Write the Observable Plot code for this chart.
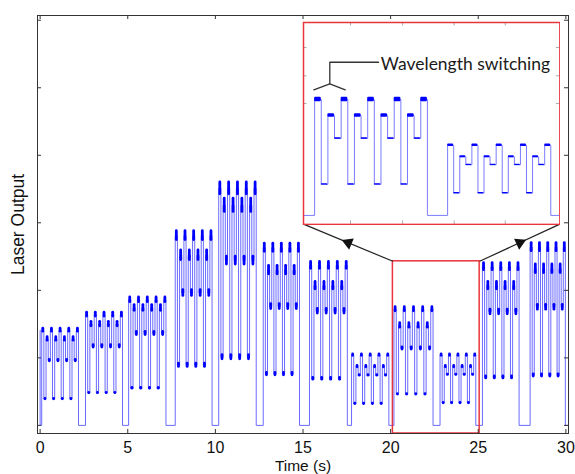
<!DOCTYPE html>
<html><head><meta charset="utf-8">
<script src="https://cdn.jsdelivr.net/npm/d3@7"></script>
<script src="https://cdn.jsdelivr.net/npm/@observablehq/plot@0.6"></script>
<style>
html,body{margin:0;padding:0;background:#fff;}
#wrap{position:relative;width:575px;height:474px;overflow:hidden;}
#wrap svg{display:block;}
</style></head><body><div id="wrap"></div>
<script>
// ---- data ----
const segStart = [0.09, 2.59, 5.05, 7.71, 10.19, 12.73, 15.37, 17.77, 20.19, 22.82, 25.24, 27.96];
const segEnd   = [2.19, 4.70, 7.18, 9.81, 12.33, 14.80, 17.53, 19.90, 22.42, 24.86, 27.33, 29.97];
const levelH  = [1.41, 1.64, 1.86, 2.81, 3.51, 2.63, 2.37, 1.04, 1.72, 1.04, 2.35, 2.64];
const levelM1 = [1.28, 1.50, 1.74, 2.52, 3.26, 2.30, 2.07, 0.87, 1.48, 0.87, 2.07, 2.32];
const levelM2 = [0.96, 1.17, 1.36, 1.96, 2.44, 1.76, 1.69, 0.74, 1.14, 0.75, 1.68, 1.75];
const levelL  = [0.39, 0.48, 0.55, 0.89, 1.01, 0.76, 0.69, 0.32, 0.46, 0.33, 0.71, 0.74];
const pattern = ["H","L","M1","M2","H","L","M1","M2","H","L","M1","M2","H","L","M1","M2","H"];
const startLevel = 1.41;
const xTicks = [0, 5, 10, 15, 20, 25, 30];
const yTicks = [0, 1, 2, 3, 4, 5, 6];
const zoomRect = [{x1: 20.13, x2: 25.08, y1: -0.12, y2: 2.43}];
const insetBox = {x1: 15.03, x2: 29.66, y1: 2.98, y2: 5.97};
const insetX = [19.97, 25.04];
const insetY = [-0.133, 2.86];
const insetXTicks = [20.9, 21.93, 22.95, 23.96];
const insetYTicks = [1.66, 2.07, 2.49];
const annotation = [{t: 21.50, v: 2.24, text: "Wavelength switching"}];
const bracket = [
  {part: "a", t: 21.455, v: 2.271}, {part: "a", t: 20.49, v: 2.271}, {part: "a", t: 20.49, v: 1.951},
  {part: "b", t: 20.174, v: 1.862}, {part: "b", t: 20.49, v: 1.951}, {part: "b", t: 20.796, v: 1.862}
];

// ---- build the step signal ----
const levels = {H: levelH, L: levelL, M1: levelM1, M2: levelM2};
const steps = [{t: 0, v: startLevel}, {t: 0, v: 0}];
const plateaus = [];
segStart.forEach((s, i) => {
  const dt = (segEnd[i] - s) / pattern.length;
  pattern.forEach((k, j) => {
    const v = levels[k][i];
    steps.push({t: s + j * dt, v});
    plateaus.push({t1: s + j * dt, t2: s + (j + 1) * dt, v, kind: k, seg: i});
  });
  steps.push({t: segEnd[i], v: 0});
});
steps.push({t: 30.15, v: 0});

// ---- layout ----
const W = 575, H = 474, mL = 37, mR = 7, mT = 15, mB = 41;
const xDomain = [-0.15, 30.15], yDomain = [-0.12, 6.07];
const ux = (xDomain[1] - xDomain[0]) / (W - mL - mR);
const uy = (yDomain[1] - yDomain[0]) / (H - mT - mB);
const iw = W - mL - mR, ih = H - mT - mB;
const blobK = {H: 4.2, M1: 5.0, M2: 4.5, L: 7.0};
const blobLen = d => Math.max(0.4, blobK[d.kind] * d.v - 3) / 2;

const arrows = [
  {x1: zoomRect[0].x1, y1: zoomRect[0].y2, x2: insetBox.x1, y2: insetBox.y1},
  {x1: zoomRect[0].x2, y1: zoomRect[0].y2, x2: insetBox.x2, y2: insetBox.y1}
];
const heads = arrows.map(a => {
  const dx = (a.x2 - a.x1) / ux, dy = -(a.y2 - a.y1) / uy;
  return {x: (a.x1 + a.x2) / 2, y: (a.y1 + a.y2) / 2, angle: Math.atan2(dy, dx) * 180 / Math.PI + 90};
});

const font = "Liberation Sans";
const blue = "#0000ff";
const main = Plot.plot({
  width: W, height: H, marginLeft: mL, marginRight: mR, marginTop: mT, marginBottom: mB,
  x: {domain: xDomain, label: null},
  y: {domain: yDomain, axis: null, label: null},
  style: {background: "white", fontFamily: font, color: "#111"},
  marks: [
    Plot.line(steps, {x: "t", y: "v", curve: "step-after", stroke: "#5a5aff", strokeWidth: 0.9}),
    Plot.ruleX(plateaus, {x: d => (d.t1 + d.t2) / 2, y1: d => d.v - blobLen(d) * uy, y2: d => d.v + blobLen(d) * uy,
      stroke: blue, strokeWidth: 2.8, strokeLinecap: "round"}),
    Plot.rect(zoomRect, {x1: "x1", x2: "x2", y1: "y1", y2: "y2", fill: "none", stroke: "#e8343c", strokeWidth: 1.5}),
    Plot.link(arrows, {x1: "x1", y1: "y1", x2: "x2", y2: "y2", stroke: "#222", strokeWidth: 1.2}),
    Plot.dot(heads, {x: "x", y: "y", symbol: "triangle", r: 4.5, fill: "#111", stroke: "none", rotate: "angle"}),
    Plot.frame({stroke: "#333", strokeWidth: 1}),
    Plot.tickX(xTicks, {x: d => d, insetTop: ih - 4, stroke: "#333"}),
    Plot.tickX(xTicks, {x: d => d, insetBottom: ih - 4, stroke: "#333"}),
    Plot.tickY(yTicks, {y: d => d, insetRight: iw - 4, stroke: "#333"}),
    Plot.tickY(yTicks, {y: d => d, insetLeft: iw - 4, stroke: "#333"}),
    Plot.axisX(xTicks, {tickSize: 0, tickPadding: 8.5, fontSize: 16, fontFamily: font, label: null, fill: "#111"}),
    Plot.text(["Time (s)"], {text: d => d, frameAnchor: "bottom", textAnchor: "middle", lineAnchor: "bottom", dy: 37.3,
      fontSize: 15.5, fontFamily: font, fill: "#111"}),
    Plot.text(["Laser Output"], {text: d => d, frameAnchor: "left", textAnchor: "middle", lineAnchor: "middle", dx: -19, rotate: -90,
      fontSize: 17.5, fontFamily: font, fill: "#111"})
  ]
});
const wrap = document.getElementById("wrap");
wrap.appendChild(main);

// ---- inset ----
const sx = main.scale("x"), sy = main.scale("y");
const px1 = sx.apply(insetBox.x1), px2 = sx.apply(insetBox.x2);
const py1 = sy.apply(insetBox.y2), py2 = sy.apply(insetBox.y1);
const IW = px2 - px1 + 2, IH = py2 - py1 + 2;
const iuy = (insetY[1] - insetY[0]) / (IH - 2);
const noiseK = {H: 1.3, M1: 1.2, M2: 0.6, L: 1.4};
const noise = d => Math.max(0.7, noiseK[d.kind] * d.v) * iuy;
const inset = Plot.plot({
  width: IW, height: IH, margin: 1,
  x: {domain: insetX, axis: null, label: null},
  y: {domain: insetY, axis: null, label: null},
  style: {background: "white", fontFamily: "Lato"},
  marks: [
    Plot.line(steps, {x: "t", y: "v", curve: "step-after", stroke: "#7a7aff", strokeWidth: 1, clip: true}),
    Plot.rect(plateaus, {x1: "t1", x2: "t2", y1: d => d.v - noise(d), y2: d => d.v + noise(d), fill: blue, rx: 1, clip: true}),
    Plot.tickX(insetXTicks, {x: d => d, insetTop: IH - 2 - 3.5, stroke: "#aaa"}),
    Plot.tickX(insetXTicks, {x: d => d, insetBottom: IH - 2 - 3.5, stroke: "#aaa"}),
    Plot.tickY(insetYTicks, {y: d => d, insetRight: IW - 2 - 3.5, stroke: "#aaa"}),
    Plot.tickY(insetYTicks, {y: d => d, insetLeft: IW - 2 - 3.5, stroke: "#aaa"}),
    Plot.line(bracket, {x: "t", y: "v", z: "part", stroke: "#333", strokeWidth: 1.3}),
    Plot.text(annotation, {x: "t", y: "v", text: "text", textAnchor: "start", lineAnchor: "middle", fontSize: 17.5,
      fontFamily: "Lato", fill: "#1a1a1a"}),
    Plot.frame({stroke: "#e8343c", strokeWidth: 1.5})
  ]
});
inset.style.position = "absolute";
inset.style.left = (px1 - 1) + "px";
inset.style.top = (py1 - 1) + "px";
wrap.appendChild(inset);
</script>
</body></html>
